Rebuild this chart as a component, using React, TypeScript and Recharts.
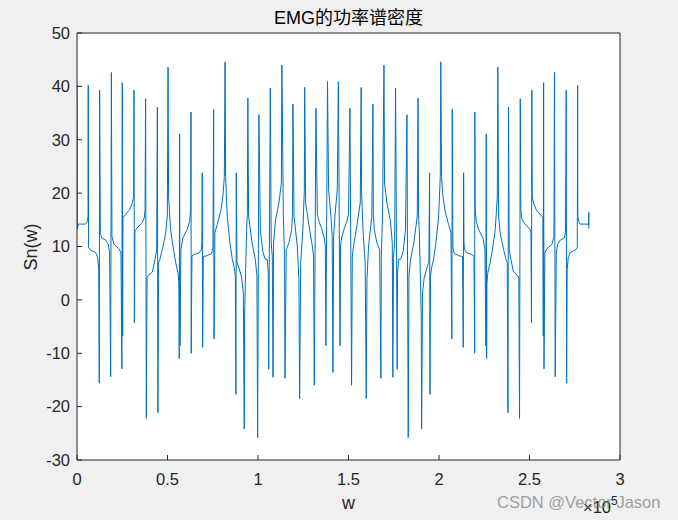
import { LineChart, Line, XAxis, YAxis } from 'recharts';

const wTicks = [0, 0.5, 1, 1.5, 2, 2.5, 3];
const snTicks = [-30, -20, -10, 0, 10, 20, 30, 40, 50];

// w in units of 1e5 (the axis carries the x10^5 factor)
const wFirstHalf = [
  0.000, 0.002, 0.007, 0.048, 0.057, 0.061, 0.062, 0.064, 0.075, 0.103,
  0.114, 0.120, 0.123, 0.125, 0.129, 0.136, 0.158, 0.173, 0.180, 0.186,
  0.190, 0.193, 0.204, 0.232, 0.243, 0.248, 0.250, 0.252, 0.254, 0.269,
  0.291, 0.306, 0.313, 0.315, 0.317, 0.320, 0.333, 0.361, 0.372, 0.376,
  0.379, 0.383, 0.387, 0.394, 0.416, 0.431, 0.440, 0.444, 0.447, 0.451,
  0.458, 0.471, 0.490, 0.499, 0.503, 0.506, 0.517, 0.530, 0.545, 0.558,
  0.563, 0.565, 0.567, 0.569, 0.574, 0.585, 0.609, 0.622, 0.628, 0.630,
  0.631, 0.635, 0.646, 0.674, 0.687, 0.690, 0.692, 0.694, 0.698, 0.720,
  0.744, 0.751, 0.755, 0.757, 0.762, 0.775, 0.794, 0.806, 0.814, 0.818,
  0.821, 0.830, 0.845, 0.858, 0.869, 0.875, 0.878, 0.880, 0.884, 0.895,
  0.910, 0.919, 0.924, 0.926, 0.937, 0.941, 0.944, 0.948, 0.967, 0.985,
  0.994, 0.998, 1.005, 1.013, 1.026, 1.040, 1.051, 1.057, 1.059, 1.068,
  1.073, 1.079, 1.083, 1.086, 1.097, 1.116, 1.129, 1.132, 1.140, 1.147,
  1.149, 1.156, 1.171, 1.186, 1.191, 1.193, 1.199, 1.217, 1.226, 1.230,
  1.236, 1.248, 1.256, 1.258, 1.263, 1.282, 1.300, 1.307, 1.311, 1.320,
  1.328, 1.339, 1.352, 1.366, 1.372, 1.375, 1.384, 1.390, 1.403, 1.410,
  1.414,
];
const snFirstHalf = [
  40.3, 13.3, 14.2, 14.2, 14.7, 15.7, 40.2, 9.8, 9.3, 8.9,
  7.9, 5.7, -15.6, 39.3, 12.6, 11.6, 11.2, 10.4, 8.8, -14.4,
  42.6, 11.9, 10.4, 9.6, 8.8, -12.9, 40.7, -6.8, 15.4, 16.0,
  16.9, 18.2, 19.4, 39.3, -4.3, 12.9, 13.5, 14.5, 15.4, 16.9,
  37.7, -22.2, 4.1, 4.6, 5.2, 7.6, 9.4, 36.1, -21.1, 7.0,
  7.6, 9.4, 12.5, 15.7, 43.6, 19.4, 13.2, 10.1, 7.0, 5.1,
  3.2, -11.0, 31.1, -8.6, 9.4, 11.6, 13.2, 14.7, 16.9, 35.2,
  -10.0, 8.2, 8.5, 8.8, 9.4, 10.7, 23.8, -8.9, 8.1, 8.3,
  8.7, 9.8, 35.7, -7.3, 12.6, 14.1, 16.6, 19.4, 23.1, 44.6,
  23.1, 15.7, 10.7, 7.6, 6.0, 4.5, -17.7, 23.8, 7.0, 6.0,
  4.1, 1.3, -24.2, -3.0, 13.2, 16.0, 37.8, 15.7, 10.7, 7.6,
  4.5, -25.8, 34.7, 13.2, 9.1, 7.6, 7.6, 5.0, -13.0, 39.7,
  10.7, 8.0, -14.5, 10.7, 15.0, 18.2, 21.9, 44.0, 15.7, 7.6,
  -14.7, 9.4, 10.7, 13.2, 16.3, 36.7, 15.7, 10.1, 3.8, -18.5,
  7.0, 13.2, 20.7, 39.8, 18.2, 13.8, 10.1, 8.2, -16.0, 35.9,
  16.0, 14.5, 13.3, 11.6, 10.1, -8.6, 40.9, 20.7, 15.7, 11.9,
  -13.6,
];

const wSecondHalf = [
  1.418, 1.425, 1.438, 1.444, 1.453, 1.456, 1.462, 1.476, 1.489, 1.500,
  1.508, 1.517, 1.521, 1.528, 1.546, 1.565, 1.570, 1.572, 1.580, 1.592,
  1.598, 1.602, 1.611, 1.629, 1.635, 1.637, 1.642, 1.657, 1.672, 1.679,
  1.681, 1.688, 1.696, 1.699, 1.712, 1.731, 1.742, 1.745, 1.749, 1.755,
  1.760, 1.769, 1.771, 1.777, 1.788, 1.802, 1.815, 1.823, 1.830, 1.834,
  1.843, 1.861, 1.880, 1.884, 1.887, 1.891, 1.902, 1.904, 1.909, 1.918,
  1.933, 1.944, 1.948, 1.950, 1.953, 1.959, 1.970, 1.983, 1.998, 2.007,
  2.010, 2.014, 2.022, 2.034, 2.053, 2.066, 2.071, 2.073, 2.077, 2.084,
  2.108, 2.130, 2.134, 2.136, 2.138, 2.141, 2.154, 2.182, 2.193, 2.197,
  2.198, 2.200, 2.206, 2.219, 2.243, 2.254, 2.259, 2.261, 2.263, 2.265,
  2.270, 2.283, 2.298, 2.311, 2.322, 2.325, 2.329, 2.338, 2.357, 2.370,
  2.377, 2.381, 2.384, 2.388, 2.397, 2.412, 2.434, 2.441, 2.445, 2.449,
  2.452, 2.456, 2.467, 2.495, 2.508, 2.511, 2.513, 2.515, 2.522, 2.537,
  2.559, 2.574, 2.576, 2.578, 2.580, 2.585, 2.596, 2.624, 2.635, 2.638,
  2.642, 2.648, 2.655, 2.670, 2.692, 2.699, 2.703, 2.705, 2.708, 2.714,
  2.725, 2.753, 2.764, 2.766, 2.767, 2.771, 2.780, 2.821, 2.825, 2.828,
  2.828,
];
const snSecondHalf = [
  11.9, 15.7, 20.7, 40.9, -8.6, 10.1, 11.6, 13.3, 14.5, 16.0,
  35.9, -16.0, 8.2, 10.1, 13.8, 18.2, 39.8, 20.7, 13.2, 7.0,
  -18.5, 3.8, 10.1, 15.7, 36.7, 16.3, 13.2, 10.7, 9.4, -14.7,
  7.6, 15.7, 44.0, 21.9, 18.2, 15.0, 10.7, -14.5, 8.0, 10.7,
  39.7, -13.0, 5.0, 7.6, 7.6, 9.1, 13.2, 34.7, -25.8, 4.5,
  7.6, 10.7, 15.7, 37.8, 16.0, 13.2, -3.0, -24.2, 1.3, 4.1,
  6.0, 7.0, 23.8, -17.7, 4.5, 6.0, 7.6, 10.7, 15.7, 23.1,
  44.6, 23.1, 19.4, 16.6, 14.1, 12.6, -7.3, 35.7, 9.8, 8.7,
  8.3, 8.1, -8.9, 23.8, 10.7, 9.4, 8.8, 8.5, 8.2, -10.0,
  35.2, 16.9, 14.7, 13.2, 11.6, 9.4, -8.6, 31.1, -11.0, 3.2,
  5.1, 7.0, 10.1, 13.2, 19.4, 43.6, 15.7, 12.5, 9.4, 7.6,
  7.0, -21.1, 36.1, 9.4, 7.6, 5.2, 4.6, 4.1, -22.2, 37.7,
  16.9, 15.4, 14.5, 13.5, 12.9, -4.3, 39.3, 19.4, 18.2, 16.9,
  16.0, 15.4, -6.8, 40.7, -12.9, 8.8, 9.6, 10.4, 11.9, 42.6,
  -14.4, 8.8, 10.4, 11.2, 11.6, 12.6, 39.3, -15.6, 5.7, 7.9,
  8.9, 9.3, 9.8, 40.2, 15.7, 14.7, 14.2, 14.2, 14.0, 16.4,
  13.3,
];

const allW = [...wFirstHalf, ...wSecondHalf];
const allSn = [...snFirstHalf, ...snSecondHalf];
const data = allW.map((w, i) => ({ w, sn: allSn[i] }));

const axisColor = '#262626';
const font = "'Liberation Sans', Arial, 'Noto Sans CJK SC', sans-serif";
const tickStyle = { fill: axisColor, fontSize: 16.5, fontFamily: font };

export default function App() {
  return (
    <div
      style={{
        position: 'absolute',
        left: 0,
        top: 0,
        width: 678,
        height: 520,
        background: '#f0f0f0',
        fontFamily: font,
        color: axisColor,
        overflow: 'hidden',
      }}
    >
      <div style={{ position: 'absolute', left: 77, top: 33, width: 543, height: 427, background: '#fff' }} />
      <div style={{ position: 'absolute', left: 0, top: 0 }}>
        <LineChart width={678} height={520} data={data} margin={{ top: 23, right: 48, bottom: 0, left: 0 }}>
          <XAxis
            dataKey="w"
            type="number"
            domain={[0, 3]}
            ticks={wTicks}
            interval={0}
            height={60}
            tickSize={-5}
            tickMargin={18}
            axisLine={{ stroke: axisColor }}
            tickLine={{ stroke: axisColor }}
            tick={tickStyle}
            allowDataOverflow
          />
          <XAxis
            xAxisId="top"
            dataKey="w"
            orientation="top"
            type="number"
            domain={[0, 3]}
            ticks={wTicks}
            interval={0}
            height={10}
            tickSize={-5}
            axisLine={{ stroke: axisColor }}
            tickLine={{ stroke: axisColor }}
            tick={false}
            allowDataOverflow
          />
          <YAxis
            type="number"
            domain={[-30, 50]}
            ticks={snTicks}
            interval={0}
            width={77}
            tickSize={-5}
            tickMargin={12}
            axisLine={{ stroke: axisColor }}
            tickLine={{ stroke: axisColor }}
            tick={tickStyle}
            allowDataOverflow
          />
          <YAxis
            yAxisId="right"
            orientation="right"
            type="number"
            domain={[-30, 50]}
            ticks={snTicks}
            interval={0}
            width={10}
            tickSize={-5}
            axisLine={{ stroke: axisColor }}
            tickLine={{ stroke: axisColor }}
            tick={false}
            allowDataOverflow
          />
          <Line
            type="linear"
            dataKey="sn"
            stroke="#0072BD"
            strokeWidth={1}
            dot={false}
            isAnimationActive={false}
          />
        </LineChart>
      </div>

      <div style={{ position: 'absolute', left: 77, width: 543, top: 7, textAlign: 'center', fontSize: 18, lineHeight: '22px', color: '#000' }}>
        EMG的功率谱密度
      </div>
      <div style={{ position: 'absolute', left: 77, width: 543, top: 492, textAlign: 'center', fontSize: 18, lineHeight: '22px' }}>
        w
      </div>
      <div
        style={{
          position: 'absolute',
          left: 31,
          top: 247,
          fontSize: 18,
          lineHeight: '22px',
          whiteSpace: 'nowrap',
          transform: 'translate(-50%, -50%) rotate(-90deg)',
        }}
      >
        Sn(w)
      </div>
      <div style={{ position: 'absolute', left: 583, top: 497, fontSize: 16.5, lineHeight: '20px', whiteSpace: 'nowrap' }}>
        ×10<span style={{ fontSize: 12, position: 'relative', top: -8 }}>5</span>
      </div>
      <div
        style={{
          position: 'absolute',
          left: 497,
          top: 492,
          fontSize: 16.5,
          lineHeight: '20px',
          whiteSpace: 'nowrap',
          color: 'rgba(120,120,120,0.7)',
        }}
      >
        CSDN @Vector Jason
      </div>
    </div>
  );
}
